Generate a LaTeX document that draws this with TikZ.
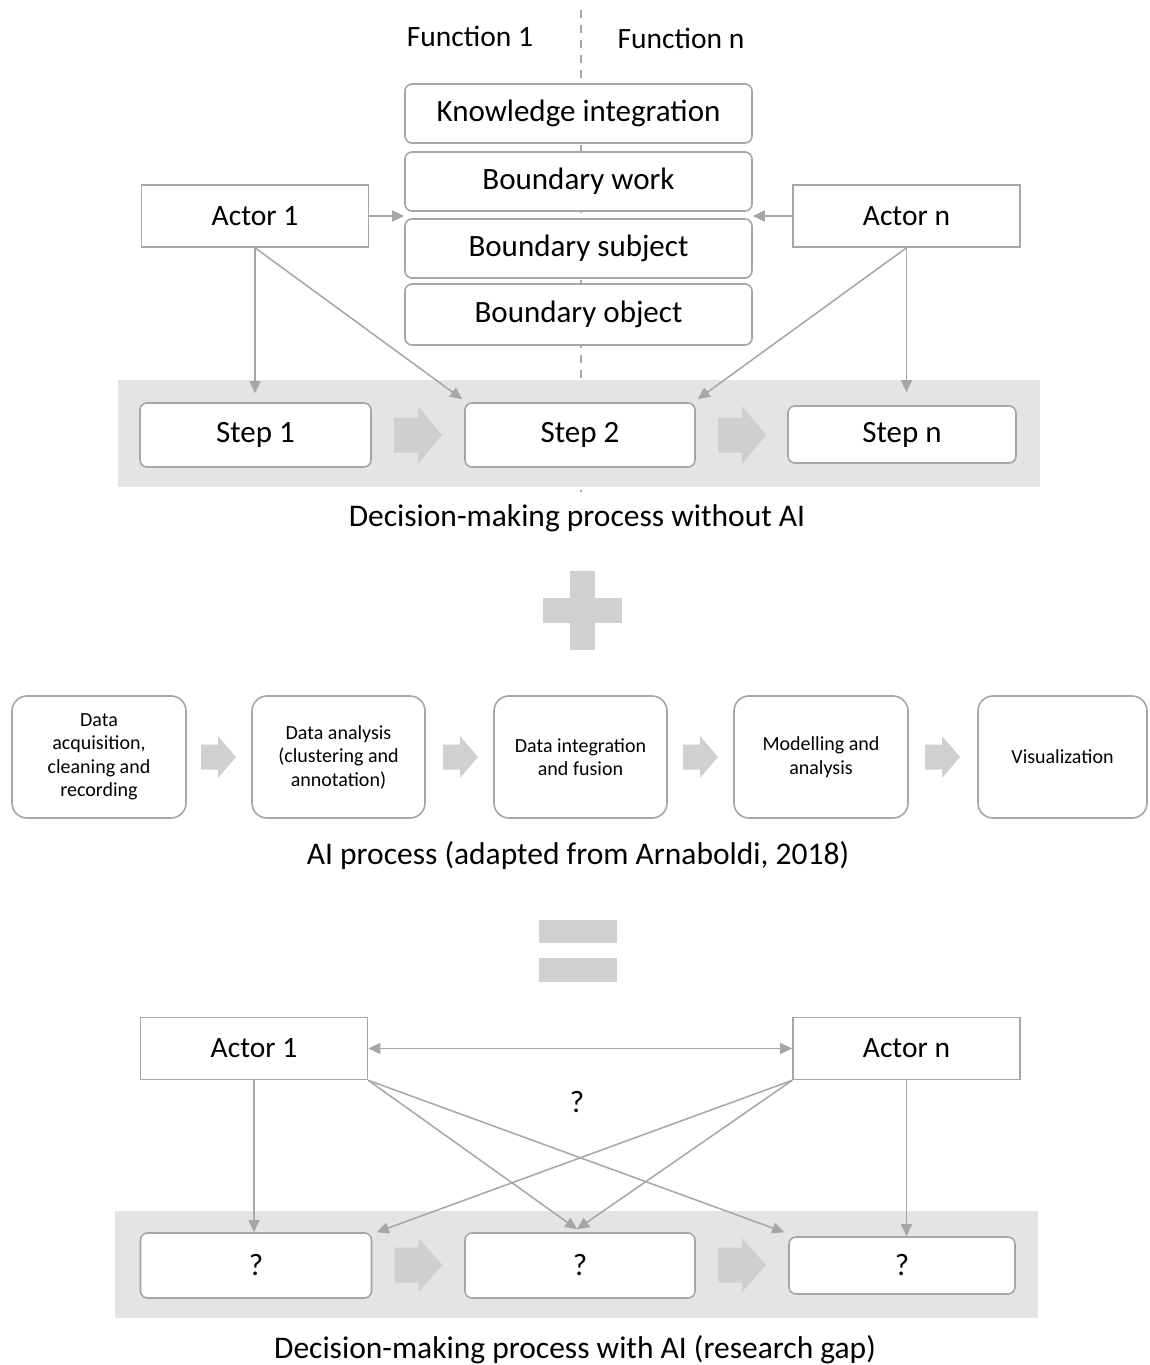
\documentclass[tikz,border=0pt]{standalone}
\usepackage{fontspec}
\setmainfont{Carlito}
\usetikzlibrary{arrows.meta,calc}

\definecolor{edgegray}{HTML}{A6A6A6}
\definecolor{bandgray}{HTML}{E4E4E4}
\definecolor{blockgray}{HTML}{CFCFCF}
\definecolor{signgray}{HTML}{D0D0D0}

% Block arrow: colour, left x, centre y, length, head start, shaft half height, head half height
\newcommand{\blkarrow}[7]{%
  \fill[#1] (#2,#3-#6) -- (#2+#5,#3-#6) -- (#2+#5,#3-#7) -- (#2+#4,#3)
    -- (#2+#5,#3+#7) -- (#2+#5,#3+#6) -- (#2,#3+#6) -- cycle;}

\tikzset{
  bigtext/.style={font=\fontsize{31}{37}\selectfont},
  actortext/.style={font=\fontsize{29.5}{35}\selectfont},
  funcbox/.style={draw=edgegray, line width=1.6pt, fill=white, rounded corners=7pt,
    inner sep=0pt, minimum width=347pt, bigtext},
  actorbox/.style={draw=edgegray, line width=1.6pt, fill=white, inner sep=0pt,
    minimum width=227pt, minimum height=62pt, actortext},
  stepbox/.style={draw=edgegray, line width=1.6pt, fill=white, rounded corners=7pt,
    inner sep=0pt, bigtext},
  aibox/.style={draw=edgegray, line width=1.6pt, fill=white, rounded corners=15pt,
    inner sep=0pt, minimum height=122pt, align=center,
    font=\fontsize{20}{23.5}\selectfont},
  conn/.style={draw=edgegray, line width=1.5pt, -{Triangle[length=12pt,width=11pt]}},
  bothconn/.style={draw=edgegray, line width=1.5pt,
    {Triangle[length=12pt,width=11pt]}-{Triangle[length=12pt,width=11pt]}},
  caption/.style={font=\fontsize{31.5}{37}\selectfont}
}

\begin{document}
\begin{tikzpicture}[x=1pt,y=-1pt]
\useasboundingbox[fill=white] (0,0) rectangle (1149,1365);

% ---------------- Decision-making process without AI ----------------
\draw[edgegray, line width=1.5pt, dash pattern=on 8pt off 7pt] (581,10) -- (581,492);

\node[actortext, anchor=base] (f1) at (470,46) {Function 1};
\node[actortext, anchor=base] (fn) at (681,48) {Function n};

\fill[bandgray] (118,380) rectangle (1040,487);

\node[funcbox, minimum height=59pt] (ki) at (578.5,113.5) {Knowledge integration};
\node[funcbox, minimum height=59pt] (bw) at (578.5,181.5) {Boundary work};
\node[funcbox, minimum height=59pt] (bs) at (578.5,248.5) {Boundary subject};
\node[funcbox, minimum height=61pt] (bo) at (578.5,314.5) {Boundary object};

\node[actorbox] (a1) at (255,216) {Actor 1};
\node[actorbox] (an) at (906.5,216) {Actor n};

\node[stepbox, minimum width=231pt, minimum height=64pt] (s1) at (255.5,435) {Step 1};
\node[stepbox, minimum width=230pt, minimum height=64pt] (s2) at (580,435) {Step 2};
\node[stepbox, minimum width=228pt, minimum height=57pt] (sn) at (902,434.5) {Step n};

\blkarrow{blockgray}{394}{435}{48}{24}{17.5}{29}
\blkarrow{blockgray}{718}{435}{48}{24}{17.5}{29}

\draw[conn] (a1.east) -- (a1.east -| bw.west);
\draw[conn] (an.west) -- (an.west -| bw.east);
\draw[conn] (a1.south) -- ([yshift=9pt]a1.south |- s1.north);
\draw[conn] (a1.south) -- ([shift={(-2pt,3pt)}]s2.north west);
\draw[conn] (an.south) -- ([shift={(2pt,3pt)}]s2.north east);
\draw[conn] (an.south) -- ([yshift=13pt]an.south |- sn.north);

\node[caption] (cap1) at (577,518) {Decision-making process without AI};

% plus sign
\fill[signgray] (570,571) rectangle (595,650);
\fill[signgray] (543,598) rectangle (622,623);

% ---------------- AI process ----------------
\node[aibox, minimum width=174pt] (p1) at (99,757) {Data\\acquisition,\\cleaning and\\recording};
\node[aibox, minimum width=173pt] (p2) at (338.5,757) {Data analysis\\(clustering and\\annotation)};
\node[aibox, minimum width=173pt] (p3) at (580.5,757) {Data integration\\and fusion};
\node[aibox, minimum width=174pt] (p4) at (821,757) {Modelling and\\analysis};
\node[aibox, minimum width=169pt] (p5) at (1062.5,757) {Visualization};

\blkarrow{signgray}{201}{757}{35}{17}{12.5}{21}
\blkarrow{signgray}{443}{757}{35}{17}{12.5}{21}
\blkarrow{signgray}{683}{757}{35}{17}{12.5}{21}
\blkarrow{signgray}{925}{757}{35}{17}{12.5}{21}

\node[caption] (cap2) at (578,856) {AI process (adapted from Arnaboldi, 2018)};

% equals sign
\fill[signgray] (539,920) rectangle (617,943);
\fill[signgray] (539,958) rectangle (617,982);

% ---------------- Decision-making process with AI ----------------
\fill[bandgray] (115,1211) rectangle (1038,1318);

\node[actorbox] (b1) at (254,1048.5) {Actor 1};
\node[actorbox] (bn) at (906.5,1048.5) {Actor n};

\node[stepbox, minimum width=231pt, minimum height=65pt] (q1) at (256,1265.5) {?};
\node[stepbox, minimum width=230pt, minimum height=65pt] (q2) at (580,1265.5) {?};
\node[stepbox, minimum width=226pt, minimum height=57pt] (q3) at (902,1265.5) {?};

\blkarrow{blockgray}{394.5}{1265}{48}{24}{17.5}{27}
\blkarrow{blockgray}{718}{1265}{48}{24}{17.5}{27}

\draw[bothconn] (b1.east) -- (bn.west);
\node[bigtext] (qm) at (577,1102) {?};

\draw[conn] (b1.south) -- (b1.south |- q1.north);
\draw[conn] (b1.south east) -- ([yshift=3pt]q2.north -| qm);
\draw[conn] (b1.south east) -- ([shift={(-4pt,4pt)}]q3.north west);
\draw[conn] (bn.south west) -- ([xshift=4.5pt]q1.north east);
\draw[conn] (bn.south west) -- ([yshift=3pt]q2.north -| qm);
\draw[conn] (bn.south) -- (bn.south |- q3.north);

\node[caption] (cap3) at (575,1350) {Decision-making process with AI (research gap)};
\end{tikzpicture}
\end{document}
